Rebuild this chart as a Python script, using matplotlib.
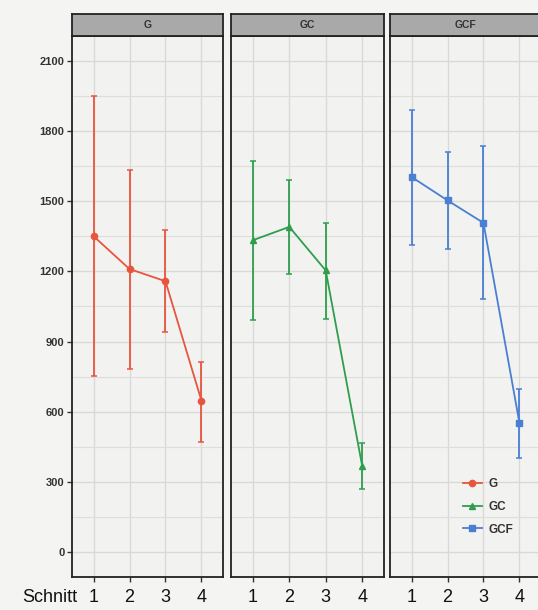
import matplotlib
matplotlib.use('Agg')
import matplotlib.pyplot as plt
import numpy as np

plt.rcParams['font.family'] = ['Liberation Sans', 'DejaVu Sans']

# Mittelwerte und Fehlerbalken je Gruppe und Schnitt
schnitt = [1, 2, 3, 4]
groups = ['G', 'GC', 'GCF']
G_mean = [1350, 1210, 1158, 648]
G_low = [753, 784, 943, 472]
G_high = [1950, 1633, 1376, 814]
GC_mean = [1333, 1390, 1204, 370]
GC_low = [993, 1190, 996, 272]
GC_high = [1671, 1591, 1407, 467]
GCF_mean = [1603, 1503, 1407, 553]
GCF_low = [1314, 1295, 1082, 403]
GCF_high = [1888, 1710, 1736, 697]
y_ticks = [0, 300, 600, 900, 1200, 1500, 1800, 2100]

means = [G_mean, GC_mean, GCF_mean]
lows = [G_low, GC_low, GCF_low]
highs = [G_high, GC_high, GCF_high]
colors = ['#e8553f', '#2f9e4c', '#4a7fd2']
markers = ['o', '^', 's']

fig = plt.figure(figsize=(5.38, 6.10), dpi=100, facecolor='#f4f4f2')

W, H = 538.0, 610.0
panel_x = [(72, 223), (231, 384), (390, 541)]
top, bottom = 36, 577

handles = []
for i, (x0, x1) in enumerate(panel_x):
    ax = fig.add_axes([x0 / W, 1 - bottom / H, (x1 - x0) / W, (bottom - top) / H])
    ax.set_facecolor('#f2f2f0')
    ax.set_yticks(y_ticks)
    ax.set_yticks([v + 150 for v in y_ticks[:-1]], minor=True)
    ax.set_xticks(schnitt)
    ax.set_xlim(0.4, 4.6)
    ax.set_ylim(-105, 2205)
    ax.grid(True, which='major', color='#d9d9d7', lw=1.0)
    ax.grid(True, which='minor', axis='y', color='#dededc', lw=0.8)
    ax.set_axisbelow(True)
    for s in ax.spines.values():
        s.set_color('#222222')
        s.set_linewidth(1.3)
    ax.tick_params(axis='x', length=3.5, width=1, color='#333333',
                   labelsize=13, labelcolor='#111111', pad=5)
    ax.tick_params(axis='y', which='major', length=3.5, width=1, color='#333333',
                   labelsize=8, labelcolor='#333333', pad=2)
    ax.tick_params(axis='y', which='minor', length=0)
    for lab in ax.get_yticklabels():
        lab.set_fontweight('bold')
    if i > 0:
        ax.tick_params(axis='y', which='major', length=0, labelleft=False)

    m = np.array(means[i])
    lo = np.array(lows[i])
    hi = np.array(highs[i])
    ax.errorbar(schnitt, m, yerr=[m - lo, hi - m], color=colors[i], lw=1.3,
                capsize=2, capthick=1.1, elinewidth=1.3, zorder=3, fmt='none')
    h, = ax.plot(schnitt, m, color=colors[i], lw=1.3, marker=markers[i],
                 markersize=4.5, zorder=4, label=groups[i])
    handles.append(h)

    # Streifen mit Gruppenname
    sx = fig.add_axes([x0 / W, 1 - top / H, (x1 - x0) / W, 22 / H])
    sx.set_facecolor('#a9a9a9')
    sx.set_xticks([])
    sx.set_yticks([])
    for s in sx.spines.values():
        s.set_color('#222222')
        s.set_linewidth(1.3)
    sx.text(0.5, 0.5, groups[i], ha='center', va='center', fontsize=7.5,
            fontweight='bold', color='#333333', transform=sx.transAxes)

    if i == 2:
        leg = ax.legend(handles=handles, loc='center left',
                        bbox_to_anchor=(452 / W, 1 - 507 / H),
                        bbox_transform=fig.transFigure, frameon=False,
                        handlelength=1.6, labelspacing=0.9, fontsize=8.5,
                        handletextpad=0.6)
        for t in leg.get_texts():
            t.set_fontweight('bold')
            t.set_color('#333333')

fig.text(50 / W, 1 - 597 / H, 'Schnitt', ha='center', va='center',
         fontsize=13, color='#111111')

fig.savefig('out.png', dpi=100, facecolor=fig.get_facecolor())
